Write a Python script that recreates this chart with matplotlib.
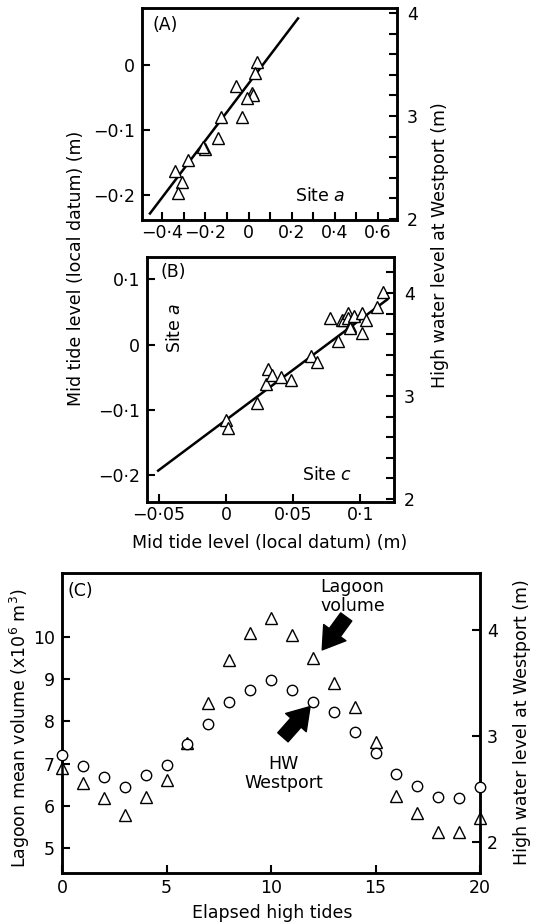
import matplotlib
matplotlib.use("Agg")
import matplotlib.pyplot as plt
from matplotlib.ticker import FuncFormatter, MultipleLocator, FixedLocator

plt.rcParams['font.family'] = ['DejaVu Sans']
plt.rcParams['mathtext.fontset'] = 'dejavusans'
plt.rcParams['font.size'] = 12.5

# panel A: site a against HW Westport
a_x = [0.04, 0.03, -0.06, 0.017, 0.02, -0.007, -0.13, -0.03, -0.14, -0.2,
       -0.21, -0.28, -0.34, -0.31, -0.33]
a_y = [0.005, -0.012, -0.032, -0.043, -0.046, -0.051, -0.08, -0.08, -0.112,
       -0.129, -0.126, -0.145, -0.163, -0.18, -0.196]
a_fit_x = [-0.458, 0.23]
a_fit_y = [-0.228, 0.072]

# panel B: site a against site c
b_x = [0.0, 0.0015, 0.023, 0.03, 0.031, 0.034, 0.041, 0.048, 0.063, 0.068,
       0.083, 0.077, 0.086, 0.088, 0.091, 0.091, 0.092, 0.0925, 0.095,
       0.1015, 0.104, 0.1015, 0.112, 0.117]
b_y = [-0.116, -0.128, -0.09, -0.06, -0.038, -0.047, -0.049, -0.055, -0.017,
       -0.027, 0.005, 0.04, 0.038, 0.037, 0.049, 0.04, 0.028, 0.025, 0.044,
       0.049, 0.037, 0.017, 0.057, 0.08]
b_fit_x = [-0.0507, 0.120]
b_fit_y = [-0.193, 0.069]

# panel C: lagoon volume and HW Westport over elapsed tides
c_tides = list(range(21))
c_volume = [6.90, 6.55, 6.19, 5.79, 6.22, 6.60, 7.49, 8.44, 9.46, 10.09, 10.45,
            10.05, 9.50, 8.91, 8.34, 7.52, 6.24, 5.82, 5.37, 5.37, 5.72]
c_hw = [2.82, 2.72, 2.62, 2.52, 2.63, 2.73, 2.93, 3.12, 3.32, 3.44, 3.53,
        3.44, 3.32, 3.23, 3.04, 2.84, 2.64, 2.53, 2.43, 2.42, 2.52]

W, H = 538, 924


def box(l, t, r, b):
    return [l / W, 1 - b / H, (r - l) / W, (b - t) / H]


def dotfmt(v, pos):
    s = f'{v:g}'
    if s in ('-0', '0.0'):
        s = '0'
    return s.replace('.', '\u00b7').replace('-', '\u2212')


def style(ax):
    for sp in ax.spines.values():
        sp.set_linewidth(1.8)
    ax.tick_params(which='both', direction='in', length=6, width=1.5,
                   labelsize=12.5)


tri = dict(marker='^', ms=9, mfc='white', mec='black', mew=1.0, ls='none',
           zorder=3)
arrow = dict(arrowstyle='simple,head_length=0.7,head_width=0.9,tail_width=0.45',
             fc='black', ec='black', mutation_scale=22, shrinkA=0, shrinkB=0)

fig = plt.figure(figsize=(W / 100, H / 100), dpi=100)

# ---- (A)
ax = fig.add_axes(box(142, 8, 397, 220))
style(ax)
ax.plot(a_fit_x, a_fit_y, color='black', lw=1.8, zorder=2)
ax.plot(a_x, a_y, **tri)
ax.set_xlim(-0.495, 0.69)
ax.set_ylim(-0.238, 0.088)
ax.xaxis.set_major_locator(FixedLocator([-0.4, -0.2, 0, 0.2, 0.4, 0.6]))
ax.xaxis.set_minor_locator(FixedLocator([-0.3, -0.1, 0.1, 0.3, 0.5]))
ax.yaxis.set_major_locator(FixedLocator([-0.2, -0.1, 0]))
ax.xaxis.set_major_formatter(FuncFormatter(dotfmt))
ax.yaxis.set_major_formatter(FuncFormatter(dotfmt))
ax.tick_params(axis='x', pad=3)
ax.tick_params(axis='y', pad=5)
ax.text(0.043, 0.92, '(A)', transform=ax.transAxes, va='center', ha='left')
ax.text(0.70, 0.113, 'Site $\\mathit{a}$', transform=ax.transAxes,
        va='center', ha='center')
ax2 = ax.twinx()
style(ax2)
ax2.set_ylim(1.99, 4.05)
ax2.yaxis.set_major_locator(FixedLocator([2, 3, 4]))
ax2.yaxis.set_minor_locator(FixedLocator([2.2, 2.4, 2.6, 2.8, 3.2, 3.4, 3.6, 3.8]))
ax2.tick_params(axis='y', pad=7)

# ---- (B)
ax = fig.add_axes(box(147, 257, 394, 502))
style(ax)
ax.plot(b_fit_x, b_fit_y, color='black', lw=1.8, zorder=2)
ax.plot(b_x, b_y, **tri)
ax.set_xlim(-0.059, 0.125)
ax.set_ylim(-0.241, 0.134)
ax.xaxis.set_major_locator(FixedLocator([-0.05, 0, 0.05, 0.1]))
ax.yaxis.set_major_locator(FixedLocator([-0.2, -0.1, 0, 0.1]))
ax.xaxis.set_major_formatter(FuncFormatter(dotfmt))
ax.yaxis.set_major_formatter(FuncFormatter(dotfmt))
ax.tick_params(axis='x', pad=3)
ax.tick_params(axis='y', pad=5)
ax.text(0.053, 0.94, '(B)', transform=ax.transAxes, va='center', ha='left')
ax.text(0.113, 0.71, 'Site $\\mathit{a}$', transform=ax.transAxes,
        va='center', ha='center', rotation=90)
ax.text(0.73, 0.11, 'Site $\\mathit{c}$', transform=ax.transAxes,
        va='center', ha='center')
ax2 = ax.twinx()
style(ax2)
ax2.set_ylim(1.97, 4.35)
ax2.yaxis.set_major_locator(FixedLocator([2, 3, 4]))
ax2.yaxis.set_minor_locator(FixedLocator([2.2, 2.4, 2.6, 2.8, 3.2, 3.4, 3.6,
                                          3.8, 4.2]))
ax2.tick_params(axis='y', pad=7)

fig.text(76 / W, 1 - 268 / H, 'Mid tide level (local datum) (m)',
         rotation=90, ha='center', va='center')
fig.text(440 / W, 1 - 245 / H, 'High water level at Westport (m)',
         rotation=90, ha='center', va='center')
fig.text(270 / W, 1 - 543 / H, 'Mid tide level (local datum) (m)',
         ha='center', va='center')

# ---- (C)
ax = fig.add_axes(box(62, 573, 480, 873))
style(ax)
ax.plot(c_tides, c_volume, marker='^', ms=8, mfc='white', mec='black',
        mew=1.0, ls='none', clip_on=False, zorder=3)
ax.set_xlim(0, 20)
ax.set_ylim(4.41, 11.51)
ax.xaxis.set_major_locator(MultipleLocator(5))
ax.yaxis.set_major_locator(FixedLocator([5, 6, 7, 8, 9, 10]))
ax.tick_params(axis='x', pad=4)
ax.tick_params(axis='y', pad=5)
ax.text(0.012, 0.94, '(C)', transform=ax.transAxes, va='center', ha='left')
ax.text(13.9, 10.96, 'Lagoon\nvolume', ha='center', va='center',
        multialignment='center', linespacing=1.05)
ax.annotate('', xy=(12.45, 9.69), xytext=(13.6, 10.47), arrowprops=arrow)
ax.text(10.6, 6.76, 'HW\nWestport', ha='center', va='center',
        multialignment='center', linespacing=1.05)
ax2 = ax.twinx()
style(ax2)
ax2.plot(c_tides, c_hw, marker='o', ms=7.5, mfc='white', mec='black',
         mew=1.0, ls='none', clip_on=False, zorder=3)
ax2.set_ylim(1.71, 4.54)
ax2.yaxis.set_major_locator(FixedLocator([2, 3, 4]))
ax2.tick_params(axis='y', pad=5)
ax2.annotate('', xy=(11.87, 3.28), xytext=(10.57, 2.99), arrowprops=arrow)

fig.text(20 / W, 1 - 728 / H, 'Lagoon mean volume (x10$^6$ m$^3$)',
         rotation=90, ha='center', va='center')
fig.text(522 / W, 1 - 722 / H, 'High water level at Westport (m)',
         rotation=90, ha='center', va='center')
fig.text(272 / W, 1 - 913 / H, 'Elapsed high tides', ha='center', va='center')

fig.savefig('out.png', dpi=100)
